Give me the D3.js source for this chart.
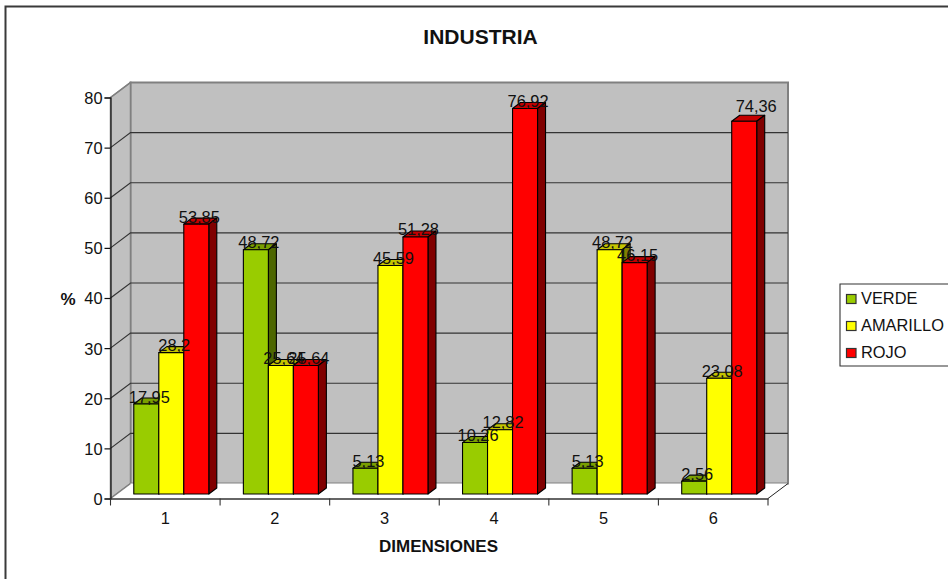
<!DOCTYPE html>
<html>
<head>
<meta charset="utf-8">
<style>
html,body{margin:0;padding:0;background:#fff;overflow:hidden}
text{font-family:"Liberation Sans",Arial,sans-serif;fill:#111}
</style>
<script src="https://cdn.jsdelivr.net/npm/d3@7/dist/d3.min.js"></script>
</head>
<body>
<svg id="chart" width="948" height="579"></svg>
<script>
const title = "INDUSTRIA";
const xTitle = "DIMENSIONES";
const yTitle = "%";
const categories = ["1","2","3","4","5","6"];
const seriesNames = ["VERDE","AMARILLO","ROJO"];
const verde = [17.95,48.72,5.13,10.26,5.13,2.56];
const amarillo = [28.2,25.64,45.59,12.82,48.72,23.08];
const rojo = [53.85,25.64,51.28,76.92,46.15,74.36];
const yTicks = [0,10,20,30,40,50,60,70,80];
const front = ["#99cc00","#ffff00","#ff0000"];
const topC = ["#7a9f00","#c4c400","#c40000"];
const sideC = ["#4d6600","#808000","#800000"];

const seriesValues = [verde, amarillo, rojo];
const svg = d3.select("#chart");
const L=110.5, R=768, B=498.5, T=97.5, DX=20, DY=15;
const x = d3.scaleBand().domain(categories).range([L,R]);
const y = d3.scaleLinear().domain([0,80]).range([B,T]);
const inner = d3.scaleBand().domain(d3.range(3)).range([0,75]);
const groupPad = (x.bandwidth()-75)/2;
// bars sit part way into the chart depth
const b0 = 0.3, b1 = 0.7;
const line = d3.line();

// frame
svg.append("path").attr("d","M948,6.5H5.5V579").attr("fill","none").attr("stroke","#3a3a3a").attr("stroke-width",2);

// walls
svg.append("path").attr("d",line([[L+DX,T-DY],[R+DX,T-DY],[R+DX,B-DY],[L+DX,B-DY]])+"Z")
  .attr("fill","#c0c0c0").attr("stroke","#808080").attr("stroke-width",2);
svg.append("path").attr("d",line([[L,T],[L+DX,T-DY],[L+DX,B-DY],[L,B]])+"Z")
  .attr("fill","#c0c0c0").attr("stroke","#808080").attr("stroke-width",1.5);
svg.append("path").attr("d",line([[L,B],[L+DX,B-DY],[R+DX,B-DY],[R,B]])+"Z")
  .attr("fill","#fff").attr("stroke","none");
svg.append("path").attr("d",line([[L,B],[L+DX,B-DY]])).attr("stroke","#808080").attr("stroke-width",1.5);
svg.append("path").attr("d",line([[R,B],[R+DX,B-DY]])).attr("stroke","#222").attr("stroke-width",1);

// gridlines
const gridTicks = yTicks.filter(d=>d>0);
svg.append("g").selectAll("path").data(gridTicks).join("path")
  .attr("d",d=>line([[L,y(d)],[L+DX,y(d)-DY],[R+DX,y(d)-DY]]))
  .attr("fill","none").attr("stroke",d=>d===80?"none":"#333").attr("stroke-width",1.2);
svg.append("path").attr("d",line([[L,T],[L+DX,T-DY]])).attr("stroke","#808080").attr("stroke-width",1.5).attr("fill","none");

// bars
const labels=[];
categories.forEach((c,ci)=>{
  seriesValues.forEach((vals,si)=>{
    const v=vals[ci];
    const x0=x(c)+groupPad+inner(si)+DX*b0;
    const w=inner.bandwidth();
    const yb=B-DY*b0;
    const h=B-y(v);
    const yt=yb-h;
    const ddx=DX*(b1-b0), ddy=DY*(b1-b0);
    const g=svg.append("g").attr("stroke","#000").attr("stroke-width",1.1).attr("stroke-linejoin","round");
    g.append("path").attr("fill",topC[si]).attr("d",line([[x0,yt],[x0+ddx,yt-ddy],[x0+w+ddx,yt-ddy],[x0+w,yt]])+"Z");
    g.append("path").attr("fill",sideC[si]).attr("d",line([[x0+w,yt],[x0+w+ddx,yt-ddy],[x0+w+ddx,yb-ddy],[x0+w,yb]])+"Z");
    g.append("rect").attr("fill",front[si]).attr("x",x0).attr("y",yt).attr("width",w).attr("height",h);
    // the last red label sits clear of its bar in the reference
    const shifted = si===2 && ci===5;
    labels.push({t:String(v).replace(".",","),x:x0+w/2+(shifted?12:3),y:yt-(shifted?9.5:1.5)});
  });
});

// axes
const axisY=d3.axisLeft(y).tickValues(yTicks).tickSize(6).tickPadding(2);
const gy=svg.append("g").attr("transform",`translate(${L},0)`).call(axisY);
gy.selectAll("text").attr("font-size",16.4).attr("dy","0.36em").style("font-family",'"Liberation Sans"');
gy.selectAll("line,path").attr("stroke","#111").attr("stroke-width",1.2);
const axisX=d3.axisBottom(x).tickValues([]).tickSize(0);
const gx=svg.append("g").attr("transform",`translate(0,${B})`).call(axisX);
gx.select("path").attr("stroke","#333").attr("stroke-width",1.6);
gx.selectAll(".sep").data(d3.range(7)).join("line").attr("class","sep")
  .attr("x1",i=>L+i*x.bandwidth()).attr("x2",i=>L+i*x.bandwidth()).attr("y1",0).attr("y2",7)
  .attr("stroke","#333").attr("stroke-width",1.1);
svg.append("g").selectAll("text").data(categories).join("text")
  .attr("x",d=>x(d)+x.bandwidth()/2).attr("y",524).attr("text-anchor","middle").attr("font-size",16.4).text(d=>d);

// data labels
svg.append("g").selectAll("text").data(labels).join("text")
  .attr("x",d=>d.x).attr("y",d=>d.y).attr("text-anchor","middle").attr("font-size",16.4).text(d=>d.t);

// titles
svg.append("text").attr("x",480.5).attr("y",44).attr("text-anchor","middle").attr("font-size",21).attr("font-weight","bold").text(title);
svg.append("text").attr("x",438.5).attr("y",552).attr("text-anchor","middle").attr("font-size",17).attr("font-weight","bold").text(xTitle);
svg.append("text").attr("x",68).attr("y",305).attr("text-anchor","middle").attr("font-size",17).attr("font-weight","bold").text(yTitle);

// legend
svg.append("path").attr("d","M948,284H840V366H948").attr("fill","#fff").attr("stroke","#333").attr("stroke-width",1.1);
const leg=svg.append("g").selectAll("g").data(seriesNames).join("g")
  .attr("transform",(d,i)=>`translate(846.5,${294.5+i*27})`);
leg.append("rect").attr("width",9.5).attr("height",9).attr("fill",(d,i)=>front[i]).attr("stroke","#333").attr("stroke-width",1.2);
leg.append("text").attr("x",14.5).attr("y",9.5).attr("font-size",16.4).text(d=>d);
</script>
</body>
</html>
